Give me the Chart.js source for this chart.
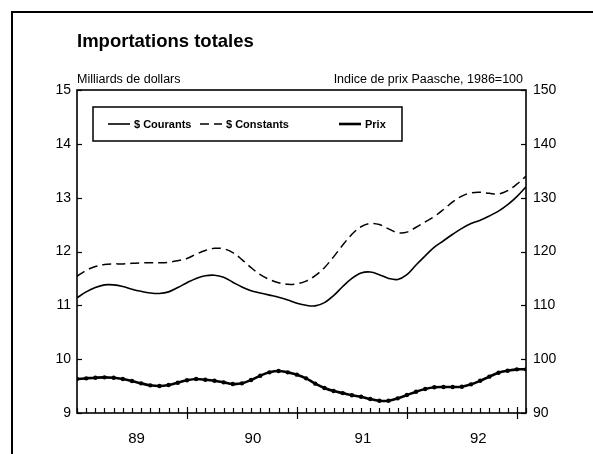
<!DOCTYPE html>
<html>
<head>
<meta charset="utf-8">
<script src="https://cdn.jsdelivr.net/npm/chart.js@4.4.1/dist/chart.umd.min.js"></script>
<style>
  html, body { margin: 0; padding: 0; background: #fff; }
  #wrap { width: 593px; height: 454px; }
</style>
</head>
<body>
<div id="wrap"><canvas id="importsChart"></canvas></div>
<script>
// === Data (monthly, Nov 1988 - Dec 1992) ===
const months = [
  '1988-11', '1988-12',
  '1989-01', '1989-02', '1989-03', '1989-04', '1989-05', '1989-06', '1989-07', '1989-08', '1989-09', '1989-10', '1989-11', '1989-12',
  '1990-01', '1990-02', '1990-03', '1990-04', '1990-05', '1990-06', '1990-07', '1990-08', '1990-09', '1990-10', '1990-11', '1990-12',
  '1991-01', '1991-02', '1991-03', '1991-04', '1991-05', '1991-06', '1991-07', '1991-08', '1991-09', '1991-10', '1991-11', '1991-12',
  '1992-01', '1992-02', '1992-03', '1992-04', '1992-05', '1992-06', '1992-07', '1992-08', '1992-09', '1992-10', '1992-11', '1992-12'
];

// $ Courants (milliards de dollars)
const courants = [
  11.14, 11.25, 11.33, 11.38, 11.38, 11.35, 11.30, 11.26, 11.23, 11.22,
  11.25, 11.33, 11.42, 11.50, 11.55, 11.56, 11.52, 11.43, 11.34, 11.27,
  11.23, 11.19, 11.15, 11.10, 11.04, 11.00, 10.99, 11.05, 11.18, 11.35,
  11.50, 11.60, 11.62, 11.57, 11.50, 11.48, 11.57, 11.75, 11.92, 12.08,
  12.20, 12.32, 12.43, 12.52, 12.58, 12.66, 12.75, 12.87, 13.02, 13.20
];

// $ Constants (milliards de dollars)
const constants = [
  11.54, 11.65, 11.72, 11.76, 11.77, 11.77, 11.78, 11.79, 11.79, 11.79,
  11.80, 11.83, 11.87, 11.95, 12.02, 12.06, 12.05, 11.98, 11.85, 11.70,
  11.57, 11.48, 11.42, 11.39, 11.40, 11.45, 11.55, 11.70, 11.90, 12.12,
  12.32, 12.46, 12.52, 12.50, 12.42, 12.35, 12.36, 12.45, 12.55, 12.65,
  12.78, 12.92, 13.03, 13.09, 13.10, 13.08, 13.07, 13.13, 13.25, 13.40
];

// Prix (indice Paasche, 1986=100)
const prix = [
  96.31, 96.44, 96.56, 96.62, 96.56, 96.31, 95.94, 95.51, 95.14, 95.01,
  95.20, 95.63, 96.07, 96.31, 96.19, 96.00, 95.69, 95.38, 95.51, 96.13,
  96.93, 97.55, 97.80, 97.55, 97.12, 96.44, 95.45, 94.65, 94.08, 93.70,
  93.30, 93.03, 92.59, 92.28, 92.28, 92.72, 93.34, 93.96, 94.45, 94.77,
  94.83, 94.83, 94.89, 95.32, 96.00, 96.75, 97.49, 97.86, 98.11, 98.11
];

// Axis labels
const yearLabels = ['89', '90', '91', '92'];
const yearLabelPos = [6.5, 19.2, 31.2, 43.8];   // month index where each year label sits
const majorTickPos = [12, 24, 36, 48];          // long tick marks on the time axis
const leftTicks = [9, 10, 11, 12, 13, 14, 15];
const rightTicks = [90, 100, 110, 120, 130, 140, 150];

const FONT = "'Liberation Sans', Arial, sans-serif";

// turn a series into {x, y} points on the month index
const toPoints = arr => arr.map((v, i) => ({ x: i, y: v }));

// === Frame, tick marks, titles and legend ===
const decorPlugin = {
    id: 'decor',
    afterDatasetsDraw(chart) {
        const { ctx, chartArea: a, scales } = chart;
        ctx.save();
        ctx.strokeStyle = '#000';

        // tick marks along the time axis
        ctx.lineWidth = 1.2;
        months.forEach((m, i) => {
            const x = Math.round(scales.x.getPixelForValue(i)) + 0.5;
            const major = majorTickPos.includes(i);
            ctx.beginPath();
            ctx.moveTo(x, a.bottom - (major ? 6 : 5));
            ctx.lineTo(x, a.bottom + (major ? 6 : 0));
            ctx.stroke();
        });

        // tick marks on both value axes (pointing inwards)
        leftTicks.forEach(v => {
            const y = Math.round(scales.y.getPixelForValue(v)) + 0.5;
            ctx.beginPath();
            ctx.moveTo(a.left, y);
            ctx.lineTo(a.left + 5, y);
            ctx.stroke();
        });
        rightTicks.forEach(v => {
            const y = Math.round(scales.y2.getPixelForValue(v)) + 0.5;
            ctx.beginPath();
            ctx.moveTo(a.right - 5, y);
            ctx.lineTo(a.right, y);
            ctx.stroke();
        });

        // plot frame
        ctx.lineWidth = 1.6;
        ctx.strokeRect(a.left, a.top, a.right - a.left, a.bottom - a.top);

        // outer page frame (left and top edges)
        ctx.lineWidth = 2;
        ctx.beginPath();
        ctx.moveTo(12, chart.height);
        ctx.lineTo(12, 12);
        ctx.lineTo(chart.width, 12);
        ctx.stroke();
        ctx.restore();
    },
    afterDraw(chart) {
        const { ctx, chartArea: a } = chart;
        ctx.save();
        ctx.fillStyle = '#000';
        ctx.textBaseline = 'alphabetic';

        // title
        ctx.font = `bold 18.5px ${FONT}`;
        ctx.textAlign = 'left';
        ctx.fillText('Importations totales', a.left, 47);

        // axis titles
        ctx.font = `12.5px ${FONT}`;
        ctx.fillText('Milliards de dollars', a.left, 83);
        ctx.textAlign = 'right';
        ctx.fillText('Indice de prix Paasche, 1986=100', a.right - 3, 83);

        // legend box
        const bx = a.left + 16, by = a.top + 17, bw = 309, bh = 34;
        ctx.lineWidth = 1.5;
        ctx.strokeStyle = '#000';
        ctx.strokeRect(bx, by, bw, bh);

        const items = [
            { ds: chart.data.datasets[0], x: bx + 15 },
            { ds: chart.data.datasets[1], x: bx + 107 },
            { ds: chart.data.datasets[2], x: bx + 246 }
        ];
        const ly = by + bh / 2;
        ctx.font = `bold 11px ${FONT}`;
        ctx.textAlign = 'left';
        ctx.textBaseline = 'middle';
        items.forEach(it => {
            ctx.beginPath();
            ctx.lineWidth = it.ds.borderWidth;
            ctx.setLineDash(it.ds.borderDash || []);
            ctx.moveTo(it.x, ly);
            ctx.lineTo(it.x + 22, ly);
            ctx.stroke();
            ctx.setLineDash([]);
            ctx.fillText(it.ds.label, it.x + 26, ly + 1);
        });
        ctx.restore();
    }
};

new Chart(document.getElementById('importsChart'), {
    type: 'line',
    data: {
        labels: months,
        datasets: [
            {
                label: '$ Courants',
                data: toPoints(courants),
                yAxisID: 'y',
                borderColor: '#000',
                borderWidth: 1.6,
                pointRadius: 0,
                tension: 0.35
            },
            {
                label: '$ Constants',
                data: toPoints(constants),
                yAxisID: 'y',
                borderColor: '#000',
                borderWidth: 1.5,
                borderDash: [9, 5],
                pointRadius: 0,
                tension: 0.35
            },
            {
                label: 'Prix',
                data: toPoints(prix),
                yAxisID: 'y2',
                borderColor: '#000',
                borderWidth: 2.6,
                pointRadius: 2.2,
                pointBackgroundColor: '#000',
                pointBorderWidth: 0,
                tension: 0.35
            }
        ]
    },
    options: {
        responsive: true,
        maintainAspectRatio: false,
        animation: false,
        layout: { padding: { top: 90, left: 0, right: 0, bottom: 0 } },
        plugins: {
            legend: { display: false },
            tooltip: { enabled: false }
        },
        scales: {
            x: {
                type: 'linear',
                min: 0,
                max: months.length - 1,
                grid: { display: false },
                border: { display: false },
                afterBuildTicks: axis => {
                    axis.ticks = yearLabelPos.map(v => ({ value: v }));
                },
                afterFit: axis => { axis.height = 41; },
                ticks: {
                    autoSkip: false,
                    maxRotation: 0,
                    padding: 9,
                    color: '#000',
                    font: { family: FONT, size: 15 },
                    callback: (v, i) => yearLabels[i]
                }
            },
            y: {
                position: 'left',
                min: 9,
                max: 15,
                grid: { display: false, drawTicks: false },
                border: { display: false },
                afterFit: axis => { axis.width = 77; },
                ticks: {
                    stepSize: 1,
                    padding: 6,
                    color: '#000',
                    font: { family: FONT, size: 14 }
                }
            },
            y2: {
                position: 'right',
                min: 90,
                max: 150,
                grid: { display: false, drawTicks: false },
                border: { display: false },
                afterFit: axis => { axis.width = 67; },
                ticks: {
                    stepSize: 10,
                    padding: 7,
                    color: '#000',
                    font: { family: FONT, size: 14 }
                }
            }
        }
    },
    plugins: [decorPlugin]
});
</script>
</body>
</html>
